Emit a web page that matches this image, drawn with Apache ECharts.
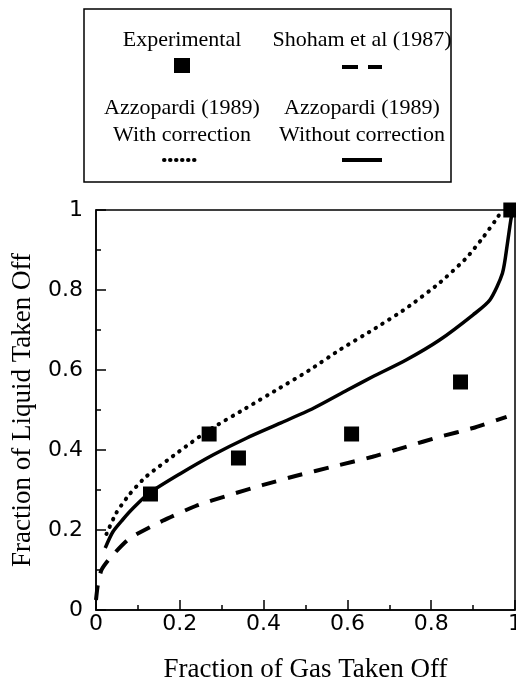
<!DOCTYPE html>
<html>
<head>
<meta charset="utf-8">
<script src="https://cdn.jsdelivr.net/npm/echarts@6/dist/echarts.min.js"></script>
<style>
  html, body { margin: 0; padding: 0; background: #fff; }
  #chart { width: 516px; height: 685px; }
</style>
</head>
<body>
<div id="chart"></div>
<script>
// measured points (fraction of gas, fraction of liquid)
const expX = [0.13, 0.27, 0.34, 0.61, 0.87, 0.99]
const expY = [0.29, 0.44, 0.38, 0.44, 0.57, 1.0]

const shohamX = [0, 0.004, 0.013, 0.032, 0.079, 0.159, 0.238, 0.317, 0.397, 0.476, 0.571, 0.66, 0.74, 0.82, 0.9, 0.98]
const shohamY = [0.025, 0.06, 0.1, 0.128, 0.178, 0.223, 0.26, 0.287, 0.312, 0.335, 0.36, 0.383, 0.408, 0.433, 0.455, 0.483]

const withCorrX = [0.025, 0.048, 0.079, 0.119, 0.198, 0.27, 0.357, 0.437, 0.51, 0.581, 0.66, 0.74, 0.819, 0.883, 0.922, 0.954, 0.97]
const withCorrY = [0.19, 0.242, 0.288, 0.333, 0.396, 0.45, 0.504, 0.554, 0.6, 0.65, 0.7, 0.754, 0.817, 0.879, 0.929, 0.975, 1.0]

const noCorrX = [0.022, 0.04, 0.063, 0.09, 0.127, 0.2, 0.28, 0.36, 0.44, 0.52, 0.6, 0.66, 0.74, 0.82, 0.9, 0.94, 0.97, 0.982, 0.99, 0.995]
const noCorrY = [0.155, 0.195, 0.225, 0.256, 0.292, 0.34, 0.388, 0.43, 0.467, 0.505, 0.55, 0.583, 0.625, 0.675, 0.738, 0.775, 0.842, 0.917, 0.975, 1.0]

const xTitle = 'Fraction of Gas Taken Off'
const yTitle = 'Fraction of Liquid Taken Off'

const pair = (xs, ys) => xs.map((x, i) => [x, ys[i]])

const serif = "'Liberation Serif', 'Times New Roman', serif"
const sans = "'DejaVu Sans', sans-serif"

const chart = echarts.init(document.getElementById('chart'))

const legendText = (x, y, text) => ({
  type: 'text', x, y,
  style: { text, fill: '#000', font: '22px ' + serif, align: 'center', verticalAlign: 'middle' }
})
const legendLine = (x1, x2, y, dash, cap, width) => ({
  type: 'line',
  shape: { x1, y1: y, x2, y2: y },
  style: { stroke: '#000', lineWidth: width, lineDash: dash, lineCap: cap }
})

const axisCommon = {
  type: 'value', min: 0, max: 1, interval: 0.2,
  nameLocation: 'middle',
  nameTextStyle: { fontFamily: serif, fontSize: 27, color: '#000' },
  axisLine: { lineStyle: { color: '#000', width: 1.5 } },
  axisTick: { inside: true, length: 10, lineStyle: { color: '#000', width: 1.5 } },
  minorTick: { show: true, splitNumber: 2, length: 5, lineStyle: { color: '#000', width: 1.5 } },
  splitLine: { show: false }
}

chart.setOption({
  animation: false,
  grid: {
    left: 96, right: 1, top: 210, bottom: 75,
    show: true, borderColor: '#000', borderWidth: 1.5,
    outerBoundsMode: 'none'
  },
  xAxis: Object.assign({}, axisCommon, {
    name: xTitle, nameGap: 46,
    axisLabel: { fontFamily: sans, fontSize: 22, color: '#000', margin: 3 }
  }),
  yAxis: Object.assign({}, axisCommon, {
    name: yTitle, nameGap: 60,
    axisLabel: { fontFamily: sans, fontSize: 22, color: '#000', margin: 13 }
  }),
  series: [
    {
      name: 'Shoham et al (1987)', type: 'line', data: pair(shohamX, shohamY),
      showSymbol: false, smooth: 0.2, clip: false,
      lineStyle: { color: '#000', width: 4, type: [15, 12] }
    },
    {
      name: 'Azzopardi (1989) With correction', type: 'line', data: pair(withCorrX, withCorrY),
      showSymbol: false, smooth: 0.2, clip: false,
      lineStyle: { color: '#000', width: 4, type: [0.5, 7.5], cap: 'round' }
    },
    {
      name: 'Azzopardi (1989) Without correction', type: 'line', data: pair(noCorrX, noCorrY),
      showSymbol: false, smooth: 0.25, clip: false,
      lineStyle: { color: '#000', width: 3.5 }
    },
    {
      name: 'Experimental', type: 'scatter', data: pair(expX, expY),
      symbol: 'rect', symbolSize: 15, clip: false,
      itemStyle: { color: '#000', opacity: 1 }, z: 5
    }
  ],
  graphic: [
    {
      type: 'rect',
      shape: { x: 84, y: 9, width: 367, height: 173 },
      style: { fill: '#fff', stroke: '#000', lineWidth: 1.5 }
    },
    legendText(182, 40, 'Experimental'),
    legendText(362, 40, 'Shoham et al (1987)'),
    legendText(182, 108, 'Azzopardi (1989)'),
    legendText(362, 108, 'Azzopardi (1989)'),
    legendText(182, 135, 'With correction'),
    legendText(362, 135, 'Without correction'),
    { type: 'rect', shape: { x: 174, y: 58, width: 16, height: 15 }, style: { fill: '#000' } },
    legendLine(342, 382, 67, [16, 10], 'butt', 4),
    legendLine(164, 200, 160, [0.5, 5.5], 'round', 4),
    legendLine(342, 382, 160, null, 'butt', 4)
  ]
})

window.addEventListener('resize', () => chart.resize())
</script>
</body>
</html>
